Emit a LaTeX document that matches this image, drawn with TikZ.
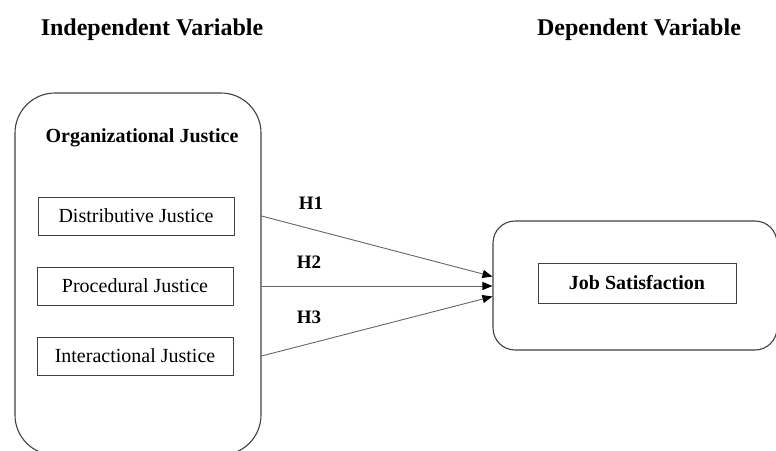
\documentclass[tikz,border=0pt]{standalone}
\usepackage{fontspec}
\setmainfont{Liberation Serif}
\usetikzlibrary{arrows.meta,positioning,calc}

\begin{document}
\begin{tikzpicture}[
  x=1pt, y=-1pt,
  every node/.style={font=\fontsize{20}{24}\selectfont},
  heading/.style={font=\fontsize{24}{28}\selectfont\bfseries},
  group/.style={
    rectangle,
    draw=black!75,
    line width=1.1pt,
    rounded corners=#1
  },
  group/.default=40pt,
  construct/.style={
    rectangle,
    draw=black!75,
    line width=1pt,
    minimum width=196pt,
    minimum height=38pt,
    inner sep=0pt
  },
  hyp/.style={font=\fontsize{19}{22}\selectfont\bfseries},
  arrow/.style={-{Triangle[length=10pt,width=8pt,color=black]},draw=black!60,line width=0.9pt}
]
\useasboundingbox (0,0) rectangle (776,450);

% Headings
\node[heading] (indep) at (152,30) {Independent Variable};
\node[heading] (dep) at (639,30) {Dependent Variable};

% Independent variable group
\node[group, minimum width=246pt, minimum height=362pt] (orgbox) at (138,274) {};
\node[font=\fontsize{20}{24}\selectfont\bfseries] (org) at (142,138) {Organizational Justice};
\node[construct] (dist) at (136,216) {Distributive Justice};
\node[construct] (proc) at (135,286) {Procedural Justice};
\node[construct] (inter) at (135,356) {Interactional Justice};

% Dependent variable group
\node[group=22pt, minimum width=284pt, minimum height=129pt] (jsbox) at (635,285.5) {};
\node[construct, minimum width=198pt, minimum height=40pt,
  font=\fontsize{20}{24}\selectfont\bfseries] (js) at (637,283) {Job Satisfaction};

% Hypotheses
\coordinate (h1end) at ([yshift=9.5pt]jsbox.west |- proc);
\coordinate (h2end) at (jsbox.west |- proc);
\coordinate (h3end) at ([yshift=-10.5pt]jsbox.west |- proc);

\draw[arrow] (orgbox.east |- dist) -- (h1end);
\draw[arrow] (orgbox.east |- proc) -- (h2end);
\draw[arrow] (orgbox.east |- inter) -- (h3end);

\node[hyp] (h1) at (311,203) {H1};
\node[hyp] (h2) at (309,262) {H2};
\node[hyp] (h3) at (309,317) {H3};

\end{tikzpicture}
\end{document}
